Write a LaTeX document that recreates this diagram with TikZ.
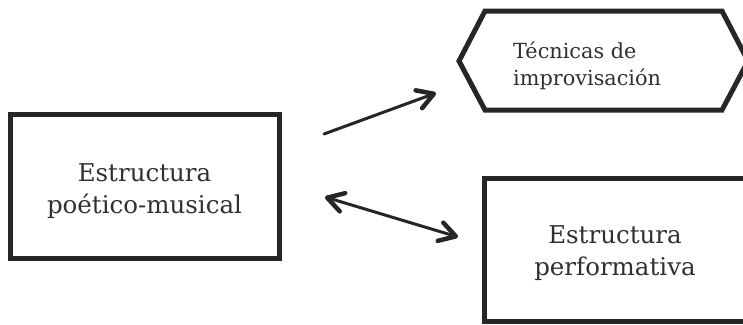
\documentclass[tikz,border=0pt]{standalone}
\usepackage{fontspec}
\setmainfont{DejaVu Serif}
\usetikzlibrary{arrows.meta}
\definecolor{ink}{HTML}{262626}
\definecolor{txt}{HTML}{303030}
\begin{document}
\begin{tikzpicture}[x=1pt,y=-1pt,
  boxline/.style={draw=ink, line width=5pt, line join=miter},
  bigtext/.style={font=\fontsize{24.5}{32}\selectfont, text=txt, align=center},
  smalltext/.style={font=\fontsize{20.8}{27}\selectfont, text=txt, align=left},
  barb/.tip={Straight Barb[length=16pt, width=19pt, line width=4.5pt, round]},
  conn/.style={draw=ink, line width=3pt, line cap=round}
]
\useasboundingbox (0,0) rectangle (743,324);
\clip (0,0) rectangle (743,324);

% left box
\node[boxline, bigtext, minimum width=269pt, minimum height=144pt, inner sep=0pt]
  (poet) at (144.5,186) {\rule{0pt}{27.5pt}Estructura\\poético-musical};

% right box (extends past the right edge)
\node[boxline, bigtext, minimum width=262pt, minimum height=143pt, inner sep=0pt]
  (perf) at (615,249.5) {\rule{0pt}{24.8pt}Estructura\\performativa};

% hexagon
\draw[boxline] (459,61) -- (485,11) -- (722,11) -- (748,61) -- (722,110) -- (485,110) -- cycle;
\node[smalltext, anchor=north west, inner sep=0pt]
  (tec) at (513,40) {\rule{0pt}{18pt}Técnicas de\\improvisación};

% connectors
\coordinate (a1s) at (324,134);
\coordinate (a1e) at (436,93);
\coordinate (a2s) at (325,197);
\coordinate (a2e) at (458,237);
\draw[conn, -{barb}] (a1s) -- (a1e);
\draw[conn, {barb}-{barb}] (a2s) -- (a2e);
\end{tikzpicture}
\end{document}
